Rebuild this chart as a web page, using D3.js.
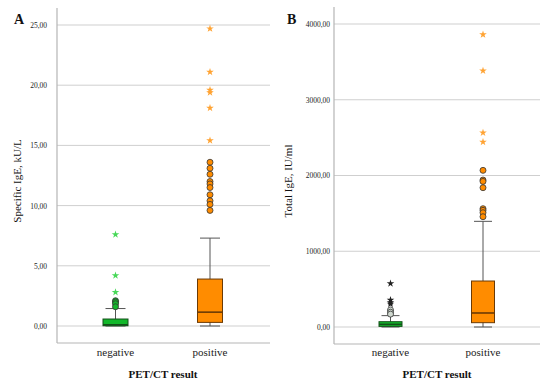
<!DOCTYPE html>
<html>
<head>
<meta charset="utf-8">
<script src="https://cdn.jsdelivr.net/npm/d3@7"></script>
<style>
  body { margin: 0; background: #fff; }
  svg { display: block; font-family: "Liberation Serif", "DejaVu Serif", serif; }
</style>
</head>
<body>
<div id="chart"></div>
<script>
// Categories
var groups = ["negative", "positive"];

// Panel A - specific IgE (kU/L): box stats [low whisker, q1, median, q3, high whisker]
var boxA_neg = [0, 0.02, 0.1, 0.58, 1.45];
var boxA_pos = [0, 0.3, 1.15, 3.9, 7.3];
var outA_neg = [2.1, 2.0, 1.85, 1.6];
var extA_neg = [7.6, 4.2, 2.8];
var outA_pos = [13.6, 13.1, 12.6, 12.0, 11.8, 11.5, 10.9, 10.4, 10.1, 9.6];
var extA_pos = [24.7, 21.1, 19.6, 19.4, 18.1, 15.4];
var ticksA = [0, 5, 10, 15, 20, 25];

// Panel B - total IgE (IU/ml)
var boxB_neg = [0, 8, 35, 70, 150];
var boxB_pos = [0, 57, 185, 607, 1395];
var outB_neg = [225, 195, 170];
var extB_neg = [575, 355, 325, 305];
var outB_pos = [2068, 1940, 1922, 1839, 1562, 1540, 1509, 1456];
var extB_pos = [3860, 3384, 2564, 2441];
var ticksB = [0, 1000, 2000, 3000, 4000];

var fmt = function(d) { return d3.format(".2f")(d).replace(".", ","); };

var svg = d3.select("#chart").append("svg")
  .attr("width", 550)
  .attr("height", 388);

function drawPanel(p) {
  var g = svg.append("g");

  var y = d3.scaleLinear().domain(p.domain).range([p.y0, p.y1]);
  var x = d3.scalePoint().domain(groups).range(p.xc);

  // gridlines
  g.selectAll(".grid").data(p.ticks).enter().append("line")
    .attr("x1", p.left).attr("x2", p.right)
    .attr("y1", function(d) { return y(d); })
    .attr("y2", function(d) { return y(d); })
    .style("stroke", "#cfcfcf").style("stroke-width", 1);

  // axis
  var axis = d3.axisLeft(y).tickValues(p.ticks).tickSize(0).tickPadding(p.pad).tickFormat(fmt);
  var ax = g.append("g").attr("transform", "translate(" + p.left + ",0)").call(axis);
  ax.select(".domain").remove();
  ax.attr("font-family", "Liberation Serif, serif");
  ax.selectAll("text").style("font-size", "7.5px").style("fill", "#222");

  g.append("line")
    .attr("x1", p.left).attr("x2", p.left)
    .attr("y1", p.top).attr("y2", p.bottom)
    .style("stroke", "#b5b5b5").style("stroke-width", 1.2);
  g.append("line")
    .attr("x1", p.left).attr("x2", p.right)
    .attr("y1", p.bottom).attr("y2", p.bottom)
    .style("stroke", "#b5b5b5").style("stroke-width", 1.2);

  // boxes
  var boxes = [p.boxes[0], p.boxes[1]];
  boxes.forEach(function(b, i) {
    var cx = x(groups[i]);
    var w = p.boxW, cap = p.capW;
    g.append("line")
      .attr("x1", cx).attr("x2", cx).attr("y1", y(b[0])).attr("y2", y(b[4]))
      .style("stroke", "#555").style("stroke-width", 1);
    [b[0], b[4]].forEach(function(v) {
      g.append("line")
        .attr("x1", cx - cap / 2).attr("x2", cx + cap / 2).attr("y1", y(v)).attr("y2", y(v))
        .style("stroke", "#555").style("stroke-width", 1);
    });
    g.append("rect")
      .attr("x", cx - w / 2).attr("width", w)
      .attr("y", y(b[3])).attr("height", y(b[1]) - y(b[3]))
      .style("fill", p.fill[i]).style("stroke", p.edge[i]).style("stroke-width", 1);
    g.append("line")
      .attr("x1", cx - w / 2).attr("x2", cx + w / 2).attr("y1", y(b[2])).attr("y2", y(b[2]))
      .style("stroke", p.edge[i]).style("stroke-width", 1.6);
  });

  // outliers
  p.outs.forEach(function(arr, i) {
    g.selectAll(null).data(arr).enter().append("circle")
      .attr("cx", x(groups[i])).attr("cy", function(d) { return y(d); })
      .attr("r", 3)
      .style("fill", p.outFill[i]).style("stroke", "#333").style("stroke-width", 0.8);
  });

  // extremes
  p.exts.forEach(function(arr, i) {
    g.selectAll(null).data(arr).enter().append("path")
      .attr("d", d3.symbol().type(d3.symbolStar).size(18))
      .attr("transform", function(d) { return "translate(" + x(groups[i]) + "," + y(d) + ")"; })
      .style("fill", p.extFill[i]);
  });

  // category labels
  g.selectAll(null).data(groups).enter().append("text")
    .attr("x", function(d) { return x(d); }).attr("y", 356)
    .attr("text-anchor", "middle")
    .style("font-size", "11px").style("fill", "#222")
    .text(function(d) { return d; });

  g.append("text")
    .attr("x", p.titleX).attr("y", 378)
    .attr("text-anchor", "middle")
    .style("font-size", "11px").style("font-weight", "bold").style("fill", "#111")
    .text("PET/CT result");

  g.append("text")
    .attr("transform", "translate(" + p.ylabX + ",181) rotate(-90)")
    .attr("text-anchor", "middle")
    .style("font-size", "11px").style("fill", "#111")
    .text(p.ylab);

  g.append("text")
    .attr("x", p.letterX).attr("y", 24)
    .style("font-size", "14px").style("font-weight", "bold").style("fill", "#111")
    .text(p.letter);
}

drawPanel({
  letter: "A", letterX: 14,
  domain: [0, 25], y0: 326, y1: 25, ticks: ticksA, pad: 10,
  left: 57, right: 270, top: 8, bottom: 343,
  xc: [115.5, 210], boxW: 25, capW: 20,
  boxes: [boxA_neg, boxA_pos],
  fill: ["#12b82a", "#ff8c00"], edge: ["#14501a", "#6b3a05"],
  outs: [outA_neg, outA_pos], outFill: ["#12b82a", "#ff8c00"],
  exts: [extA_neg, extA_pos], extFill: ["#48d858", "#ffa333"],
  titleX: 163, ylabX: 21, ylab: "Specific IgE, kU/L"
});

drawPanel({
  letter: "B", letterX: 287,
  domain: [0, 4000], y0: 327, y1: 24, ticks: ticksB, pad: 4,
  left: 334, right: 540, top: 7, bottom: 344,
  xc: [390.5, 483], boxW: 23, capW: 18,
  boxes: [boxB_neg, boxB_pos],
  fill: ["#12b82a", "#ff8c00"], edge: ["#14501a", "#6b3a05"],
  outs: [outB_neg, outB_pos], outFill: ["#cfd8cf", "#ff8c00"],
  exts: [extB_neg, extB_pos], extFill: ["#222", "#ffa333"],
  titleX: 437, ylabX: 292, ylab: "Total IgE, IU/ml"
});
</script>
</body>
</html>
